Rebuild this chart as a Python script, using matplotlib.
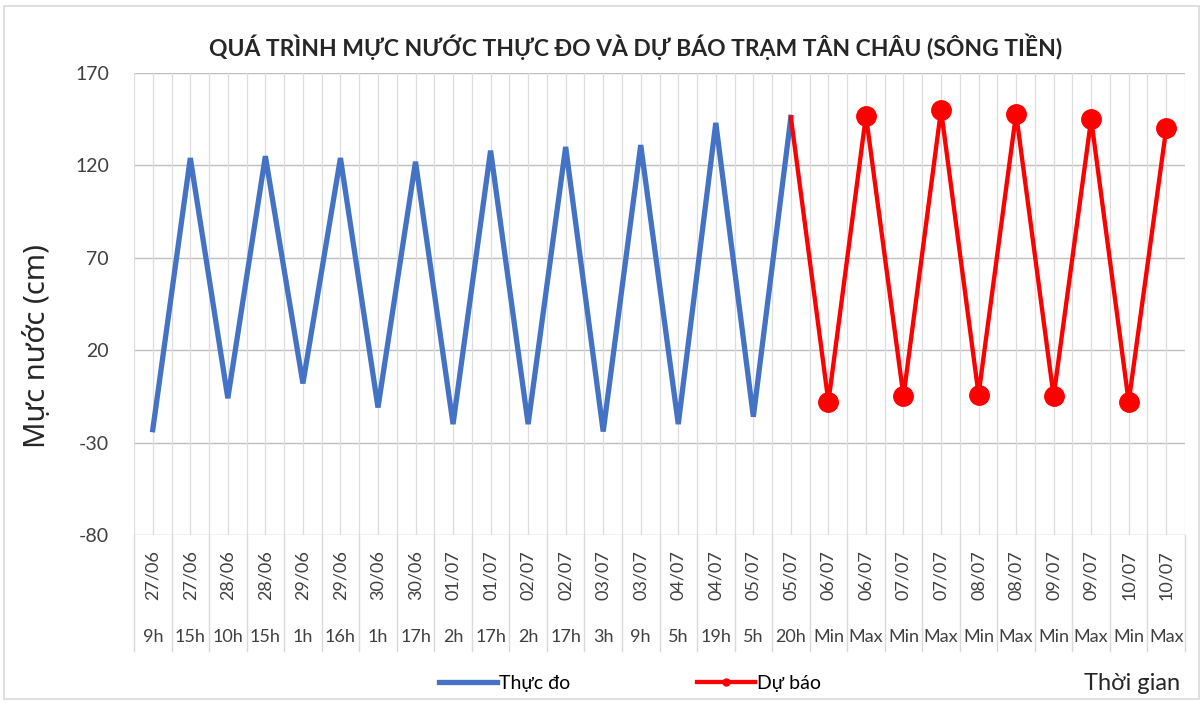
import numpy as np
import matplotlib
matplotlib.use('Agg')
import matplotlib.pyplot as plt
import matplotlib.transforms as mtransforms
from matplotlib.lines import Line2D
from matplotlib.patches import Rectangle

# data
dates = ['27/06', '27/06', '28/06', '28/06', '29/06', '29/06', '30/06', '30/06',
         '01/07', '01/07', '02/07', '02/07', '03/07', '03/07', '04/07', '04/07',
         '05/07', '05/07', '06/07', '06/07', '07/07', '07/07', '08/07', '08/07',
         '09/07', '09/07', '10/07', '10/07']
hours = ['9h', '15h', '10h', '15h', '1h', '16h', '1h', '17h', '2h', '17h',
         '2h', '17h', '3h', '9h', '5h', '19h', '5h', '20h',
         'Min', 'Max', 'Min', 'Max', 'Min', 'Max', 'Min', 'Max', 'Min', 'Max']
observed = [-23, 124, -6, 125, 2, 124, -11, 122, -20, 128,
            -20, 130, -24, 131, -20, 143, -16, 146]
forecast = [-8, 147, -5, 150, -4, 148, -5, 145, -8, 140]

yticks = [-80, -30, 20, 70, 120, 170]

FONT = ['Lato', 'DejaVu Sans']
plt.rcParams['font.family'] = FONT
plt.rcParams['axes.unicode_minus'] = False

W, H = 1204, 704
fig = plt.figure(figsize=(W / 100, H / 100), dpi=100)
ax = fig.add_axes([134 / W, 1 - 535 / H, (1185 - 134) / W, (535 - 73) / H])

n = len(dates)
x_obs = np.arange(len(observed))
# forecast line starts from the last observed point
x_fc = np.arange(len(observed) - 1, n)
y_fc = [observed[-1]] + forecast

ax.plot(x_obs, observed, color='#4472C4', lw=3.8, solid_joinstyle='miter',
        label='Thực đo', zorder=3)
ax.plot(x_fc, y_fc, color='#FF0000', lw=3.1, marker='o', markersize=14,
        markevery=list(range(1, len(y_fc))), label='Dự báo', zorder=4)

ax.set_xlim(-0.5, n - 0.5)
ax.set_ylim(-80, 170)
ax.set_yticks(yticks)
ax.tick_params(axis='y', length=0, labelsize=14, pad=18, labelcolor='#404040')
ax.set_xticks([])

# grid: horizontal major lines, vertical lines every half category
for yv in yticks:
    ax.axhline(yv, color='#BFBFBF', lw=1, zorder=1)
for xv in np.arange(-0.5, n, 0.5):
    ax.axvline(xv, color='#DDDDDD', lw=0.9, zorder=1)
for s in ax.spines.values():
    s.set_visible(False)

# two-level category labels below the plot
tr = mtransforms.blended_transform_factory(ax.transData, fig.transFigure)
for i in range(n):
    ax.text(i, 1 - 575 / H, dates[i], transform=tr, rotation=90,
            ha='center', va='center', fontsize=13, color='#404040')
    ax.text(i, 1 - 637 / H, hours[i], transform=tr, ha='center',
            va='center', fontsize=13, color='#404040')
for b in np.arange(-0.5, n, 1.0):
    ax.plot([b, b], [1 - 535 / H, 1 - 651 / H], transform=tr,
            color='#D9D9D9', lw=1, clip_on=False)

fig.text(636 / W, 1 - 47 / H,
         'QUÁ TRÌNH MỰC NƯỚC THỰC ĐO VÀ DỰ BÁO TRẠM TÂN CHÂU (SÔNG TIỀN)',
         ha='center', va='center', fontsize=16.5, fontweight='bold',
         color='#262626')
fig.text(38 / W, 1 - 346 / H, 'Mực nước (cm)', rotation=90, ha='center',
         va='center', fontsize=21, family=['Noto Sans', 'DejaVu Sans'],
         color='#262626')
fig.text(1180 / W, 1 - 683 / H, 'Thời gian', ha='right', va='center',
         fontsize=17, color='#262626')

handles = [Line2D([], [], color='#4472C4', lw=3.8),
           Line2D([], [], color='#FF0000', lw=3.1, marker='o', markersize=5)]
fig.legend(handles, ['Thực đo', 'Dự báo'], loc='center',
           bbox_to_anchor=(630 / W, 1 - 683 / H), ncol=2, frameon=False,
           fontsize=14, handlelength=3.0, handletextpad=0.1,
           columnspacing=6.5)

# chart border
fig.patches.append(Rectangle((4 / W, 5 / H), (W - 9) / W, (H - 11) / H,
                             transform=fig.transFigure, fill=False,
                             edgecolor='#D9D9D9', lw=1.2))

fig.savefig('out.png', dpi=100)
